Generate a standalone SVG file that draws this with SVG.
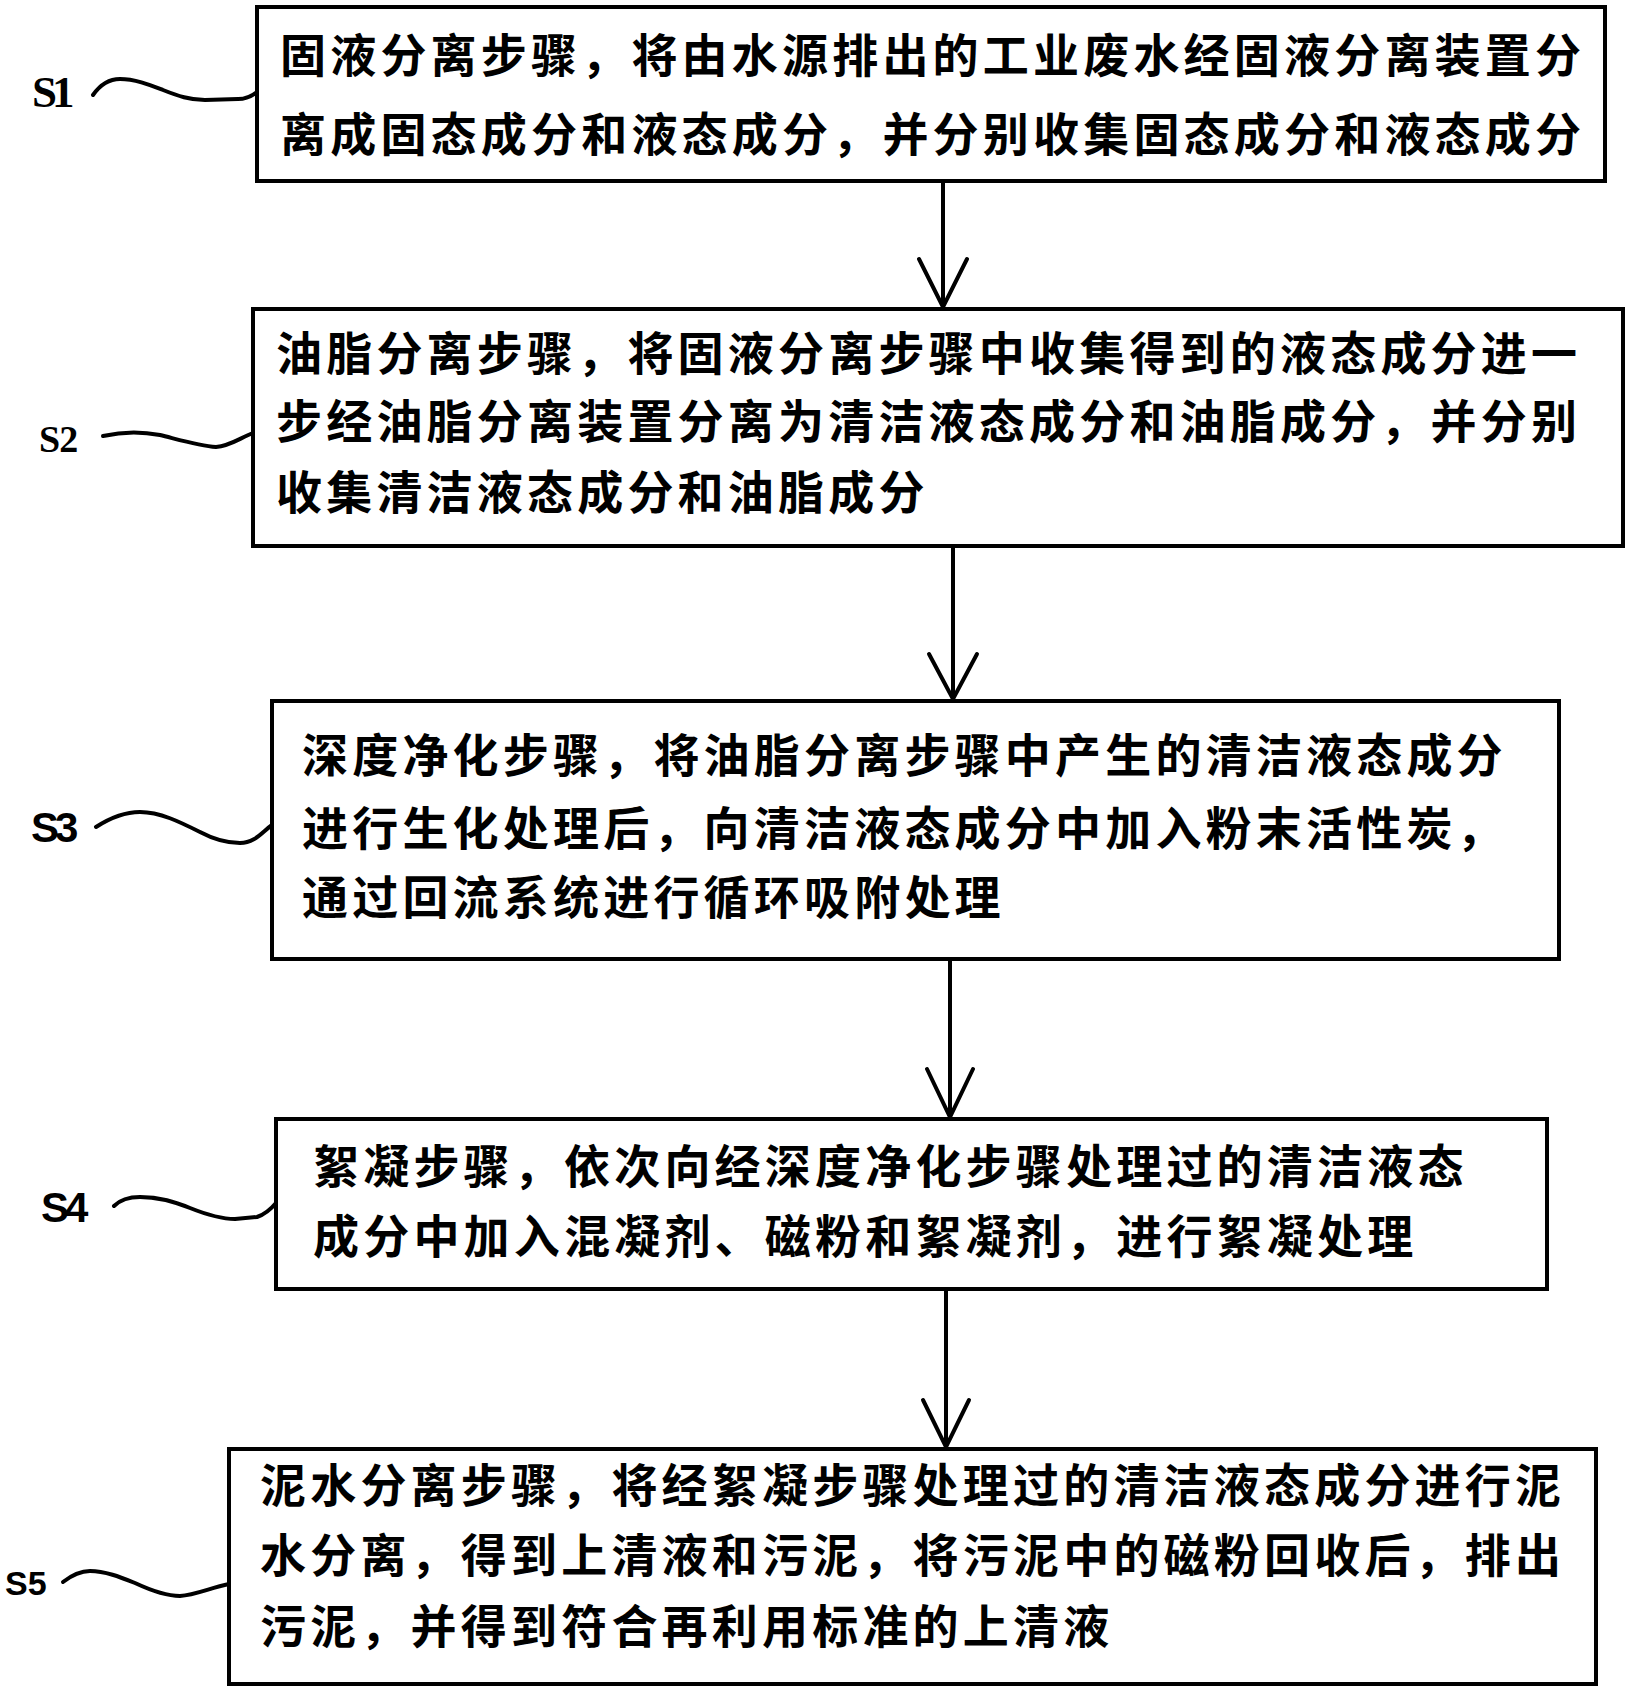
<svg xmlns="http://www.w3.org/2000/svg" width="1630" height="1689" viewBox="0 0 1630 1689">
<style>
.box{fill:#fff;stroke:#000;stroke-width:4}
.t{font-family:"Noto Sans CJK SC","Noto Sans CJK TC",sans-serif;font-weight:700;font-size:46px;letter-spacing:4.2px;fill:#000}
.lbls{font-family:"Liberation Serif",serif;font-weight:700;fill:#000}
.lbl{font-family:"Liberation Sans",sans-serif;font-weight:700;fill:#000}
.w{fill:none;stroke:#000;stroke-width:4;stroke-linecap:round;stroke-linejoin:round}
.c{fill:none;stroke:#000;stroke-width:4;stroke-linecap:round;stroke-linejoin:miter}
</style>
<rect width="1630" height="1689" fill="#fff"/>
<g id="connectors">
<path class="c" d="M943,181 V307 M919,259 L943,307 L967,259"/>
<path class="c" d="M953,546 V699 M929,654 L953,699 L977,654"/>
<path class="c" d="M950,959 V1117 M927,1069 L950,1117 L973,1069"/>
<path class="c" d="M946,1289 V1447 M923,1400 L946,1447 L969,1400"/>
</g>
<g id="S1">
<rect class="box" x="257" y="7" width="1348" height="174"/>
<text class="t" x="280" y="72">固液分离步骤，将由水源排出的工业废水经固液分离装置分</text>
<text class="t" x="280" y="151">离成固态成分和液态成分，并分别收集固态成分和液态成分</text>
<text class="lbls" x="32" y="107" font-size="45" letter-spacing="-5">S1</text>
<path class="w" d="M93,95 C100,85 108,79 120,79 C135,79 150,85 163,90 C178,96 190,100 205,100 L238,99 C247,99 252,96 257,92"/>
</g>
<g id="S2">
<rect class="box" x="253" y="309" width="1370" height="237"/>
<text class="t" x="276" y="370">油脂分离步骤，将固液分离步骤中收集得到的液态成分进一</text>
<text class="t" x="276" y="438">步经油脂分离装置分离为清洁液态成分和油脂成分，并分别</text>
<text class="t" x="276" y="509">收集清洁液态成分和油脂成分</text>
<text class="lbls" x="39" y="452" font-size="38" letter-spacing="-1">S2</text>
<path class="w" d="M103,436 C120,432 140,431 160,435 C180,440 200,446 216,447 C230,446 240,438 253,433"/>
</g>
<g id="S3">
<rect class="box" x="272" y="701" width="1287" height="258"/>
<text class="t" x="302" y="772">深度净化步骤，将油脂分离步骤中产生的清洁液态成分</text>
<text class="t" x="302" y="845">进行生化处理后，向清洁液态成分中加入粉末活性炭，</text>
<text class="t" x="302" y="914">通过回流系统进行循环吸附处理</text>
<text class="lbl" x="31" y="842" font-size="42" letter-spacing="-4">S3</text>
<path class="w" d="M96,827 C110,818 125,812 140,812 C160,812 180,822 200,832 C215,840 228,843 240,843 C255,843 262,832 272,825"/>
</g>
<g id="S4">
<rect class="box" x="276" y="1119" width="1271" height="170"/>
<text class="t" x="313" y="1183">絮凝步骤，依次向经深度净化步骤处理过的清洁液态</text>
<text class="t" x="313" y="1253">成分中加入混凝剂、磁粉和絮凝剂，进行絮凝处理</text>
<text class="lbl" x="41" y="1222" font-size="42" letter-spacing="-4">S4</text>
<path class="w" d="M114,1206 C120,1200 128,1197 140,1197 C160,1197 175,1202 190,1208 C205,1214 220,1219 235,1219 L257,1217 C266,1214 271,1209 276,1203"/>
</g>
<g id="S5">
<rect class="box" x="229" y="1449" width="1367" height="235"/>
<text class="t" x="260" y="1502">泥水分离步骤，将经絮凝步骤处理过的清洁液态成分进行泥</text>
<text class="t" x="260" y="1572" letter-spacing="8.3">水分离，得到上清液和污泥，将污泥中的磁粉回收后，排出</text>
<text class="t" x="260" y="1643">污泥，并得到符合再利用标准的上清液</text>
<text class="lbl" x="5" y="1595" font-size="34" font-weight="400" style="font-weight:600">S5</text>
<path class="w" d="M63,1582 C72,1575 80,1571 90,1571 C105,1571 120,1577 135,1583 C150,1590 165,1596 180,1596 C195,1595 210,1588 229,1584"/>
</g>
</svg>
